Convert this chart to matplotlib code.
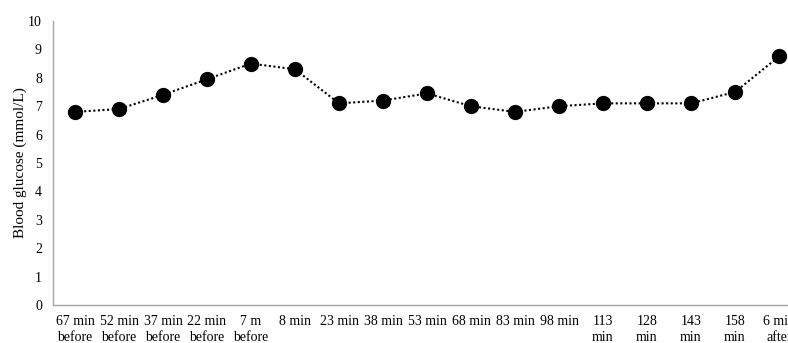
import matplotlib.pyplot as plt

# --- Data ---
time_labels = [
    "67 min\nbefore", "52 min\nbefore", "37 min\nbefore", "22 min\nbefore", "7 m\nbefore",
    "8 min", "23 min", "38 min", "53 min", "68 min", "83 min", "98 min",
    "113\nmin", "128\nmin", "143\nmin", "158\nmin", "6 min\nafter",
]
glucose = [6.8, 6.9, 7.4, 7.95, 8.5, 8.3, 7.1, 7.2, 7.45, 7.0, 6.8, 7.0,
           7.1, 7.1, 7.1, 7.5, 8.75]
y_ticks = list(range(0, 11))

plt.rcParams["font.family"] = ["Liberation Serif", "DejaVu Serif"]

fig = plt.figure(figsize=(7.88, 3.43), dpi=100)
ax = fig.add_axes([53 / 788, 1 - 305 / 343, 748 / 788, 284 / 343])

x = list(range(len(glucose)))
ax.plot(x, glucose, linestyle=(0, (1, 1.2)), color="black", linewidth=1.5,
        marker="o", markersize=10, markerfacecolor="black", markeredgecolor="black")

ax.set_xlim(-0.5, len(glucose) - 0.5)
ax.set_ylim(0, 10)
ax.set_yticks(y_ticks)
ax.set_xticks(x)
ax.set_xticklabels(time_labels, fontsize=10, linespacing=1.3)
ax.tick_params(axis="both", length=0, labelsize=10)
ax.tick_params(axis="y", pad=8)
ax.tick_params(axis="x", pad=7)

for side in ["top", "right"]:
    ax.spines[side].set_visible(False)
for side in ["left", "bottom"]:
    ax.spines[side].set_color("#a6a6a6")
    ax.spines[side].set_linewidth(1.0)

ax.set_ylabel("Blood glucose (mmol/L)", fontsize=11, labelpad=1)

fig.savefig("out.png", dpi=100)
